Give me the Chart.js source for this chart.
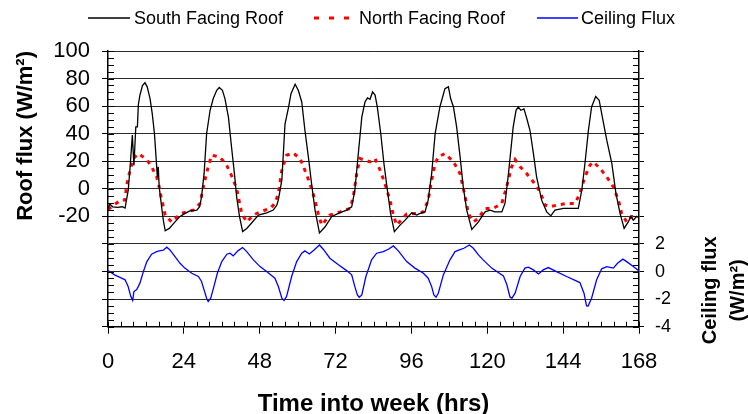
<!DOCTYPE html>
<html>
<head>
<meta charset="utf-8">
<script src="https://cdn.jsdelivr.net/npm/chart.js@4.4.1/dist/chart.umd.min.js"></script>
<style>
  html, body { margin: 0; padding: 0; background: #fff; }
</style>
</head>
<body>
<canvas id="chart" width="748" height="414"></canvas>
<script>
// --- Data ---

const seriesNames = ['South Facing Roof', 'North Facing Roof', 'Ceiling Flux'];

const southHours = [
  0, 0.5, 1.5, 3, 4.5, 5.4, 6.4, 7.0, 7.7, 8.2, 8.8, 9.3, 9.6, 10.1, 10.9, 11.7, 12.4, 13.3, 14.0, 14.7,
  15.2, 15.6, 15.9, 16.2, 16.8, 17.5, 18.1, 19.4, 21.2, 22.8, 24.4, 25.9, 28.1, 29.0, 29.6, 30.4, 31.2,
  32.3, 33.3, 34.4, 35.2, 36.2, 37.0, 38.1, 39.1, 40.0, 40.7, 41.6, 42.6, 43.9, 45.5, 47.6, 50.2, 52.3,
  53.4, 53.9, 55, 56, 57.1, 57.9, 59.2, 60.2, 61.3, 62.3, 63.4, 64.4, 65.5, 66.9, 68.7, 70.8, 72.9, 75.5,
  77.1, 78.1, 79.2, 80.3, 81.3, 82.1, 82.9, 83.7, 84.5, 85.2, 86.3, 87.3, 88.4, 89.4, 90.6, 92.4, 94,
  96.1, 97.7, 98.7, 100.3, 101.3, 102.4, 103.5, 105, 106.6, 107.7, 108.4, 109.3, 110.3, 111.4, 112.4,
  113.5, 115.1, 117.2, 119.3, 120.9, 122.4, 124.6, 125.6, 126.7, 128.2, 129.1, 129.8, 130.6, 131.6,
  132.5, 133.5, 134.6, 135.6, 137.2, 138.8, 140.1, 141.4, 144.1, 146.7, 148.8, 149.9, 150.9, 152, 153,
  154.3, 155.4, 156.5, 157.8, 159.4, 160.7, 162, 163.3, 164.6, 165.4, 166.2, 167.3, 168
];
const southFlux = [
  -15, -11, -13, -13.5, -13, -14, -1, 16, 39, 17, 45, 45, 61, 68, 75, 77, 74, 65.5, 54.6, 40,
  23, 8.7, 16, 1.4, -10, -22.7, -30.4, -28.7, -24, -20, -17.8, -16, -15.4, -13, -5.8, 11, 40,
  57, 65.5, 71.5, 73.5, 71.5, 65.5, 52, 30, 11, -5.8, -20, -31, -28.7, -24.6, -19, -17.4, -15.4,
  -11.8, -8, 6.3, 47, 59, 69, 75.9, 71.5, 63, 42.5, 23, 3.9, -15.4, -32, -27.5, -20, -17.8, -15.4,
  -13, -1, 25.6, 52, 63, 66, 65, 70.3, 68, 59.4, 40, 18.4, -1, -17.8, -31, -26.3, -22.7,
  -17.4, -19, -17.8, -16.7, -8.2, 11, 40, 59.4, 72.7, 74, 65.5, 59.4, 45, 23.2, 1.4,
  -15.4, -29.4, -24, -16.7, -15.4, -16.7, -16.7, -10.6, 11, 45, 57, 59.4, 57, 58,
  51, 42.5, 25.6, 8.7, -8.2, -16.7, -19.6, -15.4, -14.2, -14.2, -14.2, -1, 18.4, 42.5, 59.4,
  67, 64.3, 51, 35.3, 18.4, -3.3, -17.8, -28.7, -24, -20, -22.7, -20, -21
];

const northHours = [
  0, 1.7, 4.3, 5.4, 5.9, 7.0, 8.0, 9.6, 11.2, 12.4, 13.8, 15.4, 16.2, 16.8, 18.1, 20.1, 23.1, 27.0,
  29.1, 30.4, 31.7, 32.8, 35.2, 37.3, 39.0, 40.7, 42.3, 43.9, 46.0, 48.1, 51.3, 52.8, 53.9, 55, 56.5,
  58.6, 60.8, 62.3, 63.9, 65.5, 66.5, 67.6, 70.2, 73.4, 76.6, 77.6, 78.7, 79.7, 81.3, 82.9, 84.5, 86.1,
  87.6, 89.2, 90.3, 91.3, 94.5, 97.7, 99.8, 101.3, 102.4, 103.5, 104.5, 106.6, 109.3, 111.4, 113, 114,
  115.6, 117.2, 119.3, 121.9, 124.6, 126.1, 127.7, 128.8, 130.4, 132.5, 134.6, 136.7, 138.3, 139.9,
  142, 145.1, 147.8, 149.3, 150.9, 152.5, 153.5, 155.7, 157.8, 159.9, 161.5, 162.5, 164.1, 165.7, 167.3
];
const northFlux = [
  -15, -11.8, -8, -8, 2.7, 13.5, 22, 25.6, 23, 20.8, 16, 8.7, 1.4, -5.8, -19, -24, -17.8, -15.4,
  -10.6, 3.9, 16, 24.4, 23.2, 18.4, 10, 0.3, -17.8, -24, -19, -16.7, -14.2, -10.6, -3.3, 13.5, 24.4,
  26, 22, 13.5, 3.9, -8.2, -17.8, -26.3, -19, -16.7, -14.2, -5.8, 11, 22, 20.8, 19.6, 22, 13.5,
  3.9, -8.2, -19, -26.3, -18.3, -17.8, -16.7, -8.2, 6.3, 18.4, 23.2, 25.6, 19.6, 11, -5.8, -17.8,
  -24, -21.5, -14.2, -14.2, -10.6, 1.4, 16, 21.3, 16, 11, 5, -2.2, -11.8, -13,
  -11.8, -10.6, -10.6, -3.3, 8.7, 17.2, 19.6, 14.8, 8.7, 1.4, -8.2, -17.8, -24, -20, -20
];

const ceilingHours = [
  0, 2.1, 4.3, 5.4, 6.4, 7.2, 7.8, 8.2, 9.1, 10.1, 11.2, 12.3, 13.8, 15.4, 16.2, 17.5, 18.6, 19.6,
  21.2, 22.8, 24.3, 26.5, 28.6, 29.6, 30.4, 31.2, 31.7, 32.5, 33.5, 34.6, 36, 37.6, 38.6, 39.6, 41.2,
  42.6, 43.9, 46, 48.1, 50.2, 52.8, 53.9, 55, 55.7, 56.5, 58.1, 59.7, 61.3, 62.3, 63.7, 65.2, 66.9,
  68.1, 70.2, 72.9, 75.5, 77.1, 78.1, 78.9, 79.5, 80.3, 81.6, 83.4, 85, 87.1, 88.7, 90.3, 91.8, 94.5,
  97.1, 99.8, 101.3, 102.4, 103.1, 103.8, 104.5, 106.1, 108.2, 109.8, 111.2, 112.6, 114.3, 115.6,
  117.2, 118.7, 121.4, 125.1, 126.2, 127.2, 127.8, 128.8, 130.4, 131.9, 133, 134.6, 136.2, 137.7,
  139.3, 141.9, 145.1, 149.3, 150.6, 151.4, 151.9, 153, 154.6, 156.2, 157.8, 159.9, 161.2, 162.9,
  164.1, 166.2, 168
];
const ceilingFlux = [
  0.07, -0.24, -0.48, -0.6, -1.1, -1.8, -2.1, -1.45, -1.3, -0.84, 0, 0.72, 1.26, 1.45, 1.5, 1.55, 1.77, 1.57,
  1.09, 0.6, 0.25, -0.12, -0.36, -0.72, -1.33, -1.93, -2.17, -1.93, -1.09, -0.12, 0.72, 1.26, 1.33, 1.14, 1.52,
  1.74, 1.45, 0.85, 0.36, 0, -0.48, -1.09, -1.93, -2.1, -1.8, -0.36, 0.72, 1.33, 1.5, 1.28, 1.57, 1.93,
  1.62, 0.97, 0.49, 0.07, -0.24, -1.09, -1.69, -1.86, -1.69, -0.36, 0.85, 1.33, 1.45, 1.62, 1.86, 1.52, 0.72,
  0.25, -0.12, -0.48, -1.09, -1.69, -1.86, -1.57, -0.24, 0.85, 1.45, 1.57, 1.69, 1.93, 1.69,
  1.21, 0.85, 0.25, -0.31, -0.96, -1.86, -1.93, -1.57, -0.36, 0.25, 0.32, 0.12, -0.17, 0.12,
  0.29, 0, -0.36, -0.8, -1.57, -2.49, -2.5, -1.93, -0.6, 0.2, 0.36, 0.25, 0.6, 0.9,
  0.72, 0.36, 0.05
];

// Axis ranges and labels
const hourTicks = [0, 24, 48, 72, 96, 120, 144, 168];
const roofLabelMin = -20;     // roof flux labels shown from here up
const ceilingLabelMax = 2;    // ceiling flux labels shown up to here

const FONT = "'Liberation Sans', Arial, Helvetica, sans-serif";

function toPoints(xs, ys) {
  return xs.map((x, i) => ({ x, y: ys[i] }));
}

// --- Inward minor ticks on all three axes ---
const minorTicks = {
  id: 'minorTicks',
  afterDatasetsDraw(chart) {
    const { ctx, chartArea: a, scales } = chart;
    ctx.save();
    ctx.strokeStyle = '#000';
    ctx.lineWidth = 1;
    ctx.beginPath();
    for (let v = -100; v <= 100; v += 5) {
      const py = Math.round(scales.y.getPixelForValue(v)) + 0.5;
      ctx.moveTo(a.left, py);
      ctx.lineTo(a.left + 6, py);
    }
    for (let v = -4; v <= 16; v += 0.5) {
      const py = Math.round(scales.y2.getPixelForValue(v)) + 0.5;
      ctx.moveTo(a.right, py);
      ctx.lineTo(a.right - 6, py);
    }
    for (let h = 0; h <= 168; h += 4) {
      const px = Math.round(scales.x.getPixelForValue(h)) + 0.5;
      ctx.moveTo(px, a.bottom);
      ctx.lineTo(px, a.bottom - 5);
    }
    ctx.stroke();
    ctx.restore();
  }
};

// --- Legend row at the top and the right-hand axis title ---
const decorations = {
  id: 'decorations',
  afterDraw(chart) {
    const { ctx, scales } = chart;
    ctx.save();

    const items = [
      { color: '#000000', width: 1.3, dash: [], x0: 88, x1: 130, tx: 134 },
      { color: '#ff0000', width: 3, dash: [5, 10], x0: 314, x1: 352, tx: 359 },
      { color: '#0000ff', width: 1.3, dash: [], x0: 537, x1: 578, tx: 581 },
    ];
    const ly = 18;
    ctx.font = `18px ${FONT}`;
    ctx.textBaseline = 'middle';
    ctx.textAlign = 'left';
    items.forEach((it, i) => {
      ctx.beginPath();
      ctx.strokeStyle = it.color;
      ctx.lineWidth = it.width;
      ctx.setLineDash(it.dash);
      ctx.moveTo(it.x0, ly);
      ctx.lineTo(it.x1, ly);
      ctx.stroke();
      ctx.setLineDash([]);
      ctx.fillStyle = '#000';
      ctx.fillText(seriesNames[i], it.tx, ly + 1);
    });

    // right axis title, reading bottom to top
    const cy = (scales.y2.getPixelForValue(ceilingLabelMax) + scales.y2.getPixelForValue(-4)) / 2 + 5;
    ctx.font = `bold 20px ${FONT}`;
    ctx.textAlign = 'center';
    ctx.textBaseline = 'alphabetic';
    [['Ceiling flux', 716], ['(W/m\u00B2)', 744]].forEach(([txt, bx]) => {
      ctx.save();
      ctx.translate(bx, cy);
      ctx.rotate(-Math.PI / 2);
      ctx.fillText(txt, 0, 0);
      ctx.restore();
    });
    ctx.restore();
  }
};

new Chart(document.getElementById('chart'), {
  type: 'line',
  data: {
    datasets: [
      {
        label: seriesNames[0],
        data: toPoints(southHours, southFlux),
        borderColor: '#000000',
        borderWidth: 1.3,
        yAxisID: 'y',
      },
      {
        label: seriesNames[1],
        data: toPoints(northHours, northFlux),
        borderColor: '#ff0000',
        borderWidth: 3,
        borderDash: [4, 5],
        yAxisID: 'y',
      },
      {
        label: seriesNames[2],
        data: toPoints(ceilingHours, ceilingFlux),
        borderColor: '#0000ff',
        borderWidth: 1.3,
        yAxisID: 'y2',
      },
    ],
  },
  options: {
    responsive: false,
    animation: false,
    layout: { padding: { top: 51, left: 0, right: 0, bottom: 0 } },
    elements: {
      point: { radius: 0 },
      line: { tension: 0, fill: false },
    },
    plugins: {
      legend: { display: false },
      tooltip: { enabled: false },
    },
    scales: {
      x: {
        type: 'linear',
        min: 0,
        max: 168,
        afterFit: (s) => { s.height = 87.3; },
        afterBuildTicks: (s) => { s.ticks = hourTicks.map(v => ({ value: v })); },
        ticks: {
          color: '#000',
          font: { family: FONT, size: 22 },
          padding: 15,
          maxRotation: 0,
          autoSkip: false,
        },
        grid: { drawOnChartArea: false, drawTicks: true, tickLength: 7, tickColor: '#000' },
        border: { display: true, color: '#000', width: 1.5 },
        title: {
          display: true,
          text: 'Time into week (hrs)',
          color: '#000',
          font: { family: FONT, size: 24, weight: 'bold', lineHeight: 0.8 },
          padding: { top: 0, bottom: 0 },
        },
      },
      y: {
        position: 'left',
        min: -100,
        max: 100,
        afterFit: (s) => { s.width = 108; },
        ticks: {
          stepSize: 20,
          autoSkip: false,
          color: '#000',
          font: { family: FONT, size: 22 },
          padding: 12,
          callback: (v) => (v >= roofLabelMin ? v : ''),
        },
        grid: { color: '#2a2a2a', lineWidth: 1, drawTicks: true, tickLength: 6, tickColor: '#000' },
        border: { display: true, color: '#000', width: 1.5 },
        title: {
          display: true,
          text: 'Roof flux (W/m\u00B2)',
          align: 'end',
          color: '#000',
          font: { family: FONT, size: 22, weight: 'bold' },
          padding: { top: 13, bottom: 0 },
        },
      },
      y2: {
        position: 'right',
        min: -4,
        max: 16,
        afterFit: (s) => { s.width = 109; },
        ticks: {
          stepSize: 2,
          autoSkip: false,
          color: '#000',
          font: { family: FONT, size: 18 },
          padding: 11,
          callback: (v) => (v <= ceilingLabelMax ? v : ''),
        },
        grid: { drawOnChartArea: false, drawTicks: true, tickLength: 5, tickColor: '#000' },
        border: { display: true, color: '#000', width: 1.5 },
      },
    },
  },
  plugins: [minorTicks, decorations],
});
</script>
</body>
</html>
